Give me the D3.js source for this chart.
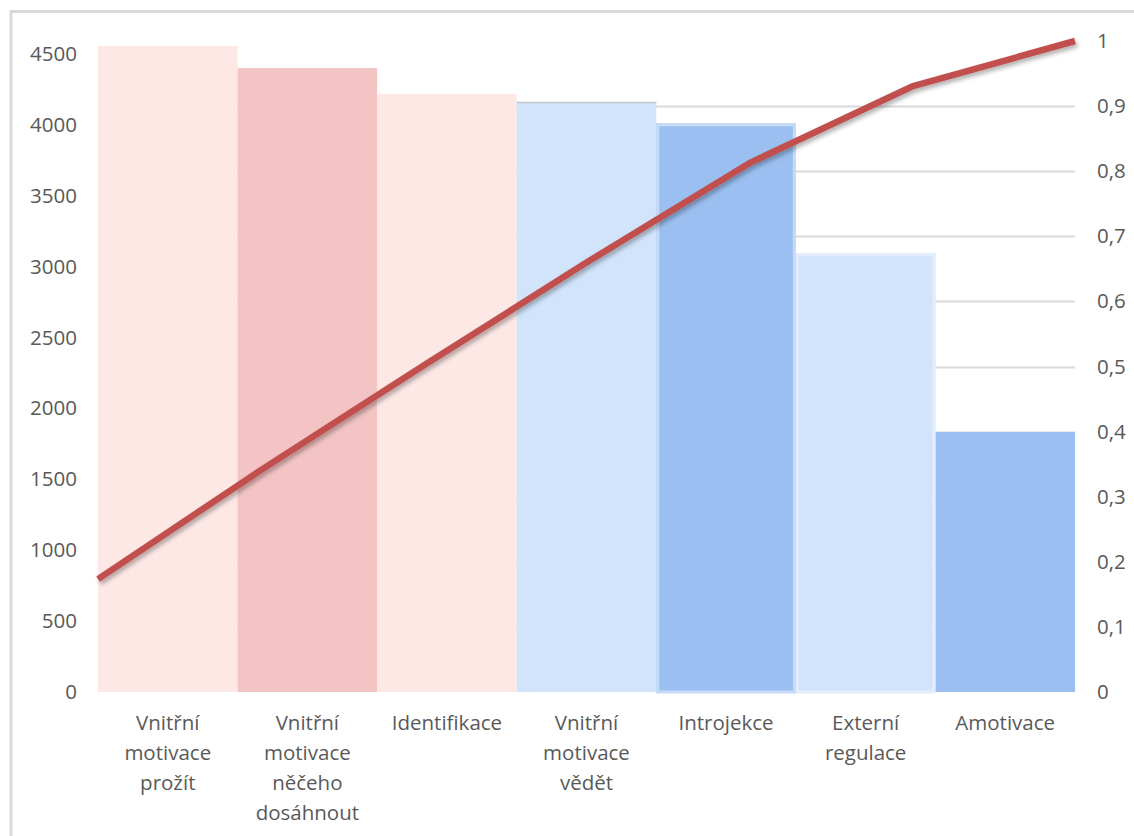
<!DOCTYPE html>
<html>
<head>
<meta charset="utf-8">
<script src="https://cdn.jsdelivr.net/npm/d3@7"></script>
<style>
  html, body { margin: 0; padding: 0; background: #fff; }
  svg { display: block; }
  text { font-family: "Open Sans", "Noto Sans", sans-serif; fill: #595959; }
</style>
</head>
<body>
<svg id="chart" width="1134" height="836"></svg>
<script>
// Motivation types and their counts, sorted descending (Pareto)
const categories = [
  "Vnitřní motivace prožít",
  "Vnitřní motivace něčeho dosáhnout",
  "Identifikace",
  "Vnitřní motivace vědět",
  "Introjekce",
  "Externí regulace",
  "Amotivace"
];
const categoryLines = [
  ["Vnitřní", "motivace", "prožít"],
  ["Vnitřní", "motivace", "něčeho", "dosáhnout"],
  ["Identifikace"],
  ["Vnitřní", "motivace", "vědět"],
  ["Introjekce"],
  ["Externí", "regulace"],
  ["Amotivace"]
];
const counts = [4556, 4400, 4217, 4161, 4010, 3096, 1834];
const barColors = ["#fde8e6", "#f4c4c4", "#fde8e6", "#d2e4fb", "#9bbff0", "#d2e4fb", "#9bbff0"];
const leftTicks = [0, 500, 1000, 1500, 2000, 2500, 3000, 3500, 4000, 4500];
const rightTicks = [0, 0.1, 0.2, 0.3, 0.4, 0.5, 0.6, 0.7, 0.8, 0.9, 1];

// Cumulative share for the Pareto line
const total = d3.sum(counts);
const cumulative = d3.cumsum(counts).map(v => v / total);

const svg = d3.select("#chart");
const plot = { left: 98, right: 1075, top: 41, bottom: 692 };
const fontSize = "20.5px";

const x = d3.scaleBand().domain(categories).range([plot.left, plot.right]).padding(0);
const xLine = d3.scalePoint().domain(categories).range([plot.left, plot.right]);
const yLeft = d3.scaleLinear().domain([0, 4591]).range([plot.bottom, plot.top]);
const yRight = d3.scaleLinear().domain([0, 1]).range([plot.bottom, plot.top]);

// Chart frame
svg.append("rect")
  .attr("x", 11).attr("y", 11.5)
  .attr("width", 1200).attr("height", 900)
  .attr("fill", "#fff")
  .attr("stroke", "#d9d9d9").attr("stroke-width", 3);

const defs = svg.append("defs");
const shadow = defs.append("filter").attr("id", "lineShadow")
  .attr("x", "-5%").attr("y", "-5%").attr("width", "110%").attr("height", "115%");
shadow.append("feDropShadow")
  .attr("dx", 2).attr("dy", 3).attr("stdDeviation", 2)
  .attr("flood-color", "#000").attr("flood-opacity", 0.3);

// Gridlines on the secondary (percentage) scale, between 0 and 1
svg.append("g")
  .selectAll("line")
  .data(rightTicks.slice(1, -1))
  .join("line")
  .attr("x1", plot.left).attr("x2", plot.right)
  .attr("y1", d => Math.round(yRight(d)) + 0.5)
  .attr("y2", d => Math.round(yRight(d)) + 0.5)
  .attr("stroke", "#d9d9d9").attr("stroke-width", 2);

// Bars
svg.append("g")
  .selectAll("rect")
  .data(counts)
  .join("rect")
  .attr("x", (d, i) => x(categories[i]))
  .attr("y", d => yLeft(d))
  .attr("width", x.bandwidth())
  .attr("height", d => plot.bottom - yLeft(d))
  .attr("fill", (d, i) => barColors[i]);

// Soft outlines on a few bars
const outlined = [{ i: 4, c: "#c5dbf8" }, { i: 5, c: "#e2eefc" }];
svg.append("g")
  .selectAll("rect")
  .data(outlined)
  .join("rect")
  .attr("x", d => x(categories[d.i]) + 1.5)
  .attr("y", d => yLeft(counts[d.i]) + 1.5)
  .attr("width", x.bandwidth() - 3)
  .attr("height", d => plot.bottom - yLeft(counts[d.i]) - 1.5)
  .attr("fill", "none")
  .attr("stroke", d => d.c).attr("stroke-width", 3);
svg.append("line")
  .attr("x1", x(categories[3])).attr("x2", x(categories[3]) + x.bandwidth())
  .attr("y1", yLeft(counts[3]) + 0.5).attr("y2", yLeft(counts[3]) + 0.5)
  .attr("stroke", "#c3c6cc").attr("stroke-width", 1.5);

// Pareto line
const line = d3.line()
  .x((d, i) => xLine(categories[i]))
  .y(d => yRight(d));
svg.append("path")
  .datum(cumulative)
  .attr("d", line)
  .attr("fill", "none")
  .attr("stroke", "#c0504d")
  .attr("stroke-width", 6.5)
  .attr("stroke-linejoin", "round")
  .attr("filter", "url(#lineShadow)");

// Left axis
const leftAxis = d3.axisLeft(yLeft).tickValues(leftTicks).tickFormat(d3.format("d"))
  .tickSize(0).tickPadding(0);
const gl = svg.append("g").attr("transform", `translate(${plot.left - 21},0)`).call(leftAxis);
gl.select(".domain").remove();
gl.selectAll("text").style("font-size", fontSize).attr("fill", "#595959")
  .style("font-family", "'Open Sans', sans-serif");

// Right axis
const fmt = d => d === 0 ? "0" : d === 1 ? "1" : String(d).replace(".", ",");
const rightAxis = d3.axisRight(yRight).tickValues(rightTicks).tickFormat(fmt).tickSize(0).tickPadding(0);
const gr = svg.append("g").attr("transform", `translate(${plot.right + 22},0)`).call(rightAxis);
gr.select(".domain").remove();
gr.selectAll("text").style("font-size", fontSize).attr("fill", "#595959")
  .style("font-family", "'Open Sans', sans-serif");

// Category labels
const lab = svg.append("g");
categoryLines.forEach((lines, i) => {
  const cx = x(categories[i]) + x.bandwidth() / 2;
  const t = lab.append("text")
    .attr("x", cx)
    .attr("y", 730)
    .attr("text-anchor", "middle")
    .style("font-size", fontSize);
  lines.forEach((s, k) => {
    t.append("tspan")
      .attr("x", cx)
      .attr("dy", k === 0 ? 0 : 30)
      .text(s);
  });
});
</script>
</body>
</html>
